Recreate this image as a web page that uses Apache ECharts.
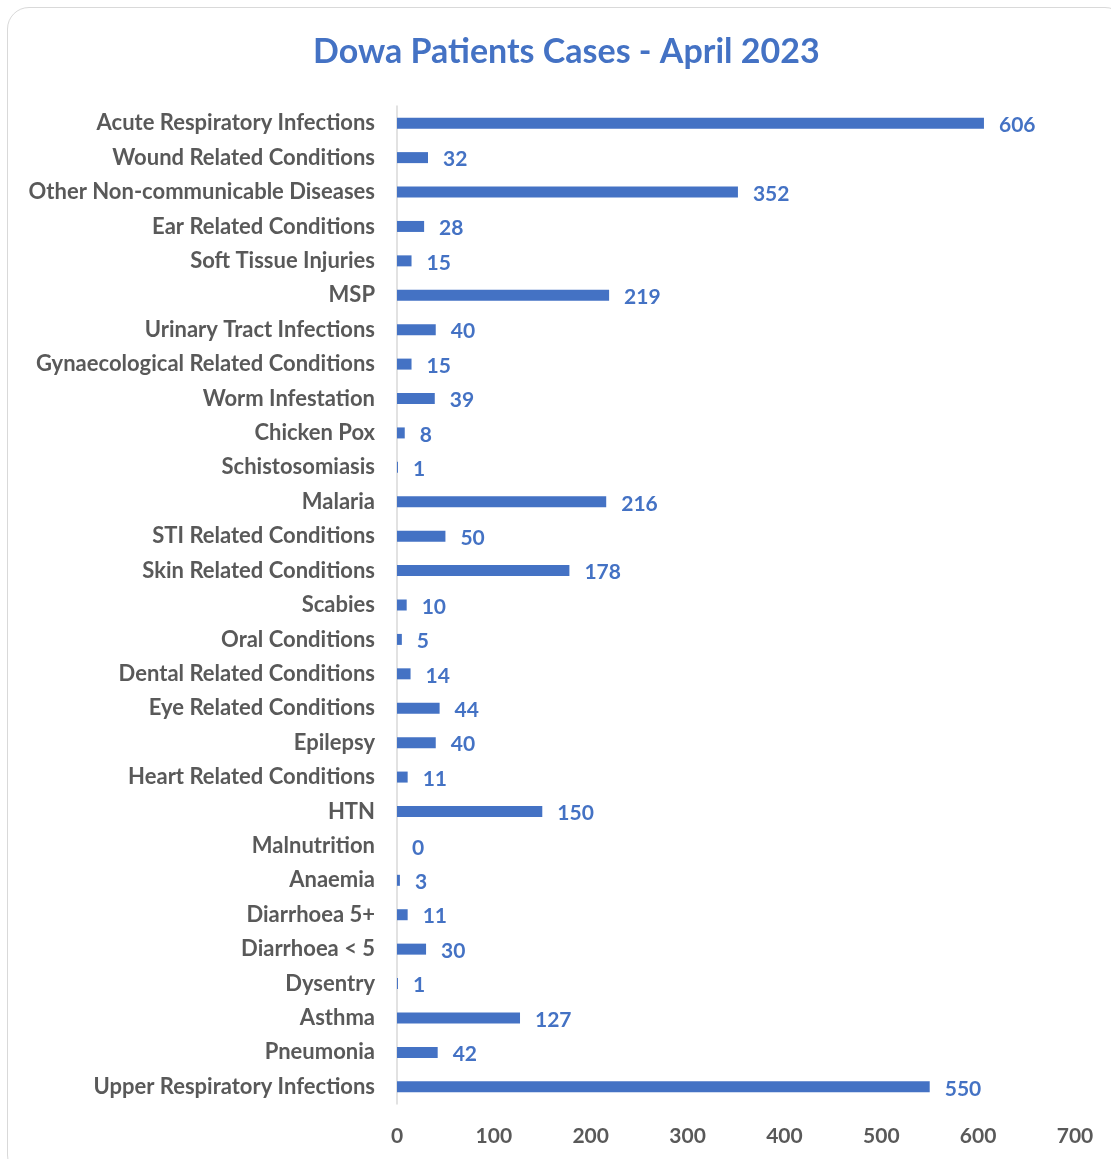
<!DOCTYPE html>
<html>
<head>
<meta charset="utf-8">
<script src="https://cdn.jsdelivr.net/npm/echarts@6/dist/echarts.min.js"></script>
<style>
  html, body { margin: 0; padding: 0; background: #fff; }
  #frame {
    position: absolute; left: 7px; top: 7px; width: 1120px; height: 1170px;
    border: 1.5px solid #d9d9d9; border-radius: 22px; box-sizing: border-box;
  }
  #main { position: absolute; left: 0; top: 0; width: 1111px; height: 1159px; }
</style>
</head>
<body>
<div id="frame"></div>
<div id="main"></div>
<script>
// categories, top to bottom as in the picture
var categories = [
    'Acute Respiratory Infections',
    'Wound Related Conditions',
    'Other Non-communicable Diseases',
    'Ear Related Conditions',
    'Soft Tissue Injuries',
    'MSP',
    'Urinary Tract Infections',
    'Gynaecological Related Conditions',
    'Worm Infestation',
    'Chicken Pox',
    'Schistosomiasis',
    'Malaria',
    'STI Related Conditions',
    'Skin Related Conditions',
    'Scabies',
    'Oral Conditions',
    'Dental Related Conditions',
    'Eye Related Conditions',
    'Epilepsy',
    'Heart Related Conditions',
    'HTN',
    'Malnutrition',
    'Anaemia',
    'Diarrhoea 5+',
    'Diarrhoea < 5',
    'Dysentry',
    'Asthma',
    'Pneumonia',
    'Upper Respiratory Infections'
]
var cases = [606, 32, 352, 28, 15, 219, 40, 15, 39, 8, 1, 216, 50, 178, 10, 5, 14, 44, 40, 11, 150, 0, 3, 11, 30, 1, 127, 42, 550]

var titleText = 'Dowa Patients Cases - April 2023'
var axisMin = 0
var axisMax = 700
var axisStep = 100

var font = 'Lato, "Open Sans", sans-serif'

var myChart = echarts.init(document.getElementById('main'))
myChart.setOption({
    animation: false,
    title: {
        text: titleText,
        left: 308,
        top: 30,
        textStyle: {color: '#4472C4', fontSize: 34, fontWeight: 'bold', fontFamily: font}
    },
    grid: {left: 397, right: 36, top: 106, bottom: 55, containLabel: false},
    xAxis: {
        type: 'value',
        min: axisMin,
        max: axisMax,
        interval: axisStep,
        axisLine: {show: false},
        axisTick: {show: false},
        splitLine: {show: false},
        axisLabel: {color: '#595959', fontSize: 21, fontWeight: 'bold', fontFamily: font, margin: 22}
    },
    yAxis: {
        type: 'category',
        inverse: true,
        data: categories,
        axisLine: {show: true, lineStyle: {color: '#d9d9d9', width: 1.5}},
        axisTick: {show: false},
        axisLabel: {color: '#595959', fontSize: 22, fontWeight: 'bold', fontFamily: font, margin: 22, padding: [3, 0, 0, 0]}
    },
    series: [{
        type: 'bar',
        data: cases,
        barWidth: 11,
        itemStyle: {color: '#4472C4'},
        label: {
            show: true,
            position: 'right',
            distance: 15,
            color: '#4472C4',
            fontSize: 21,
            fontWeight: 'bold',
            fontFamily: font,
            offset: [0, 2]
        }
    }]
})
</script>
</body>
</html>
